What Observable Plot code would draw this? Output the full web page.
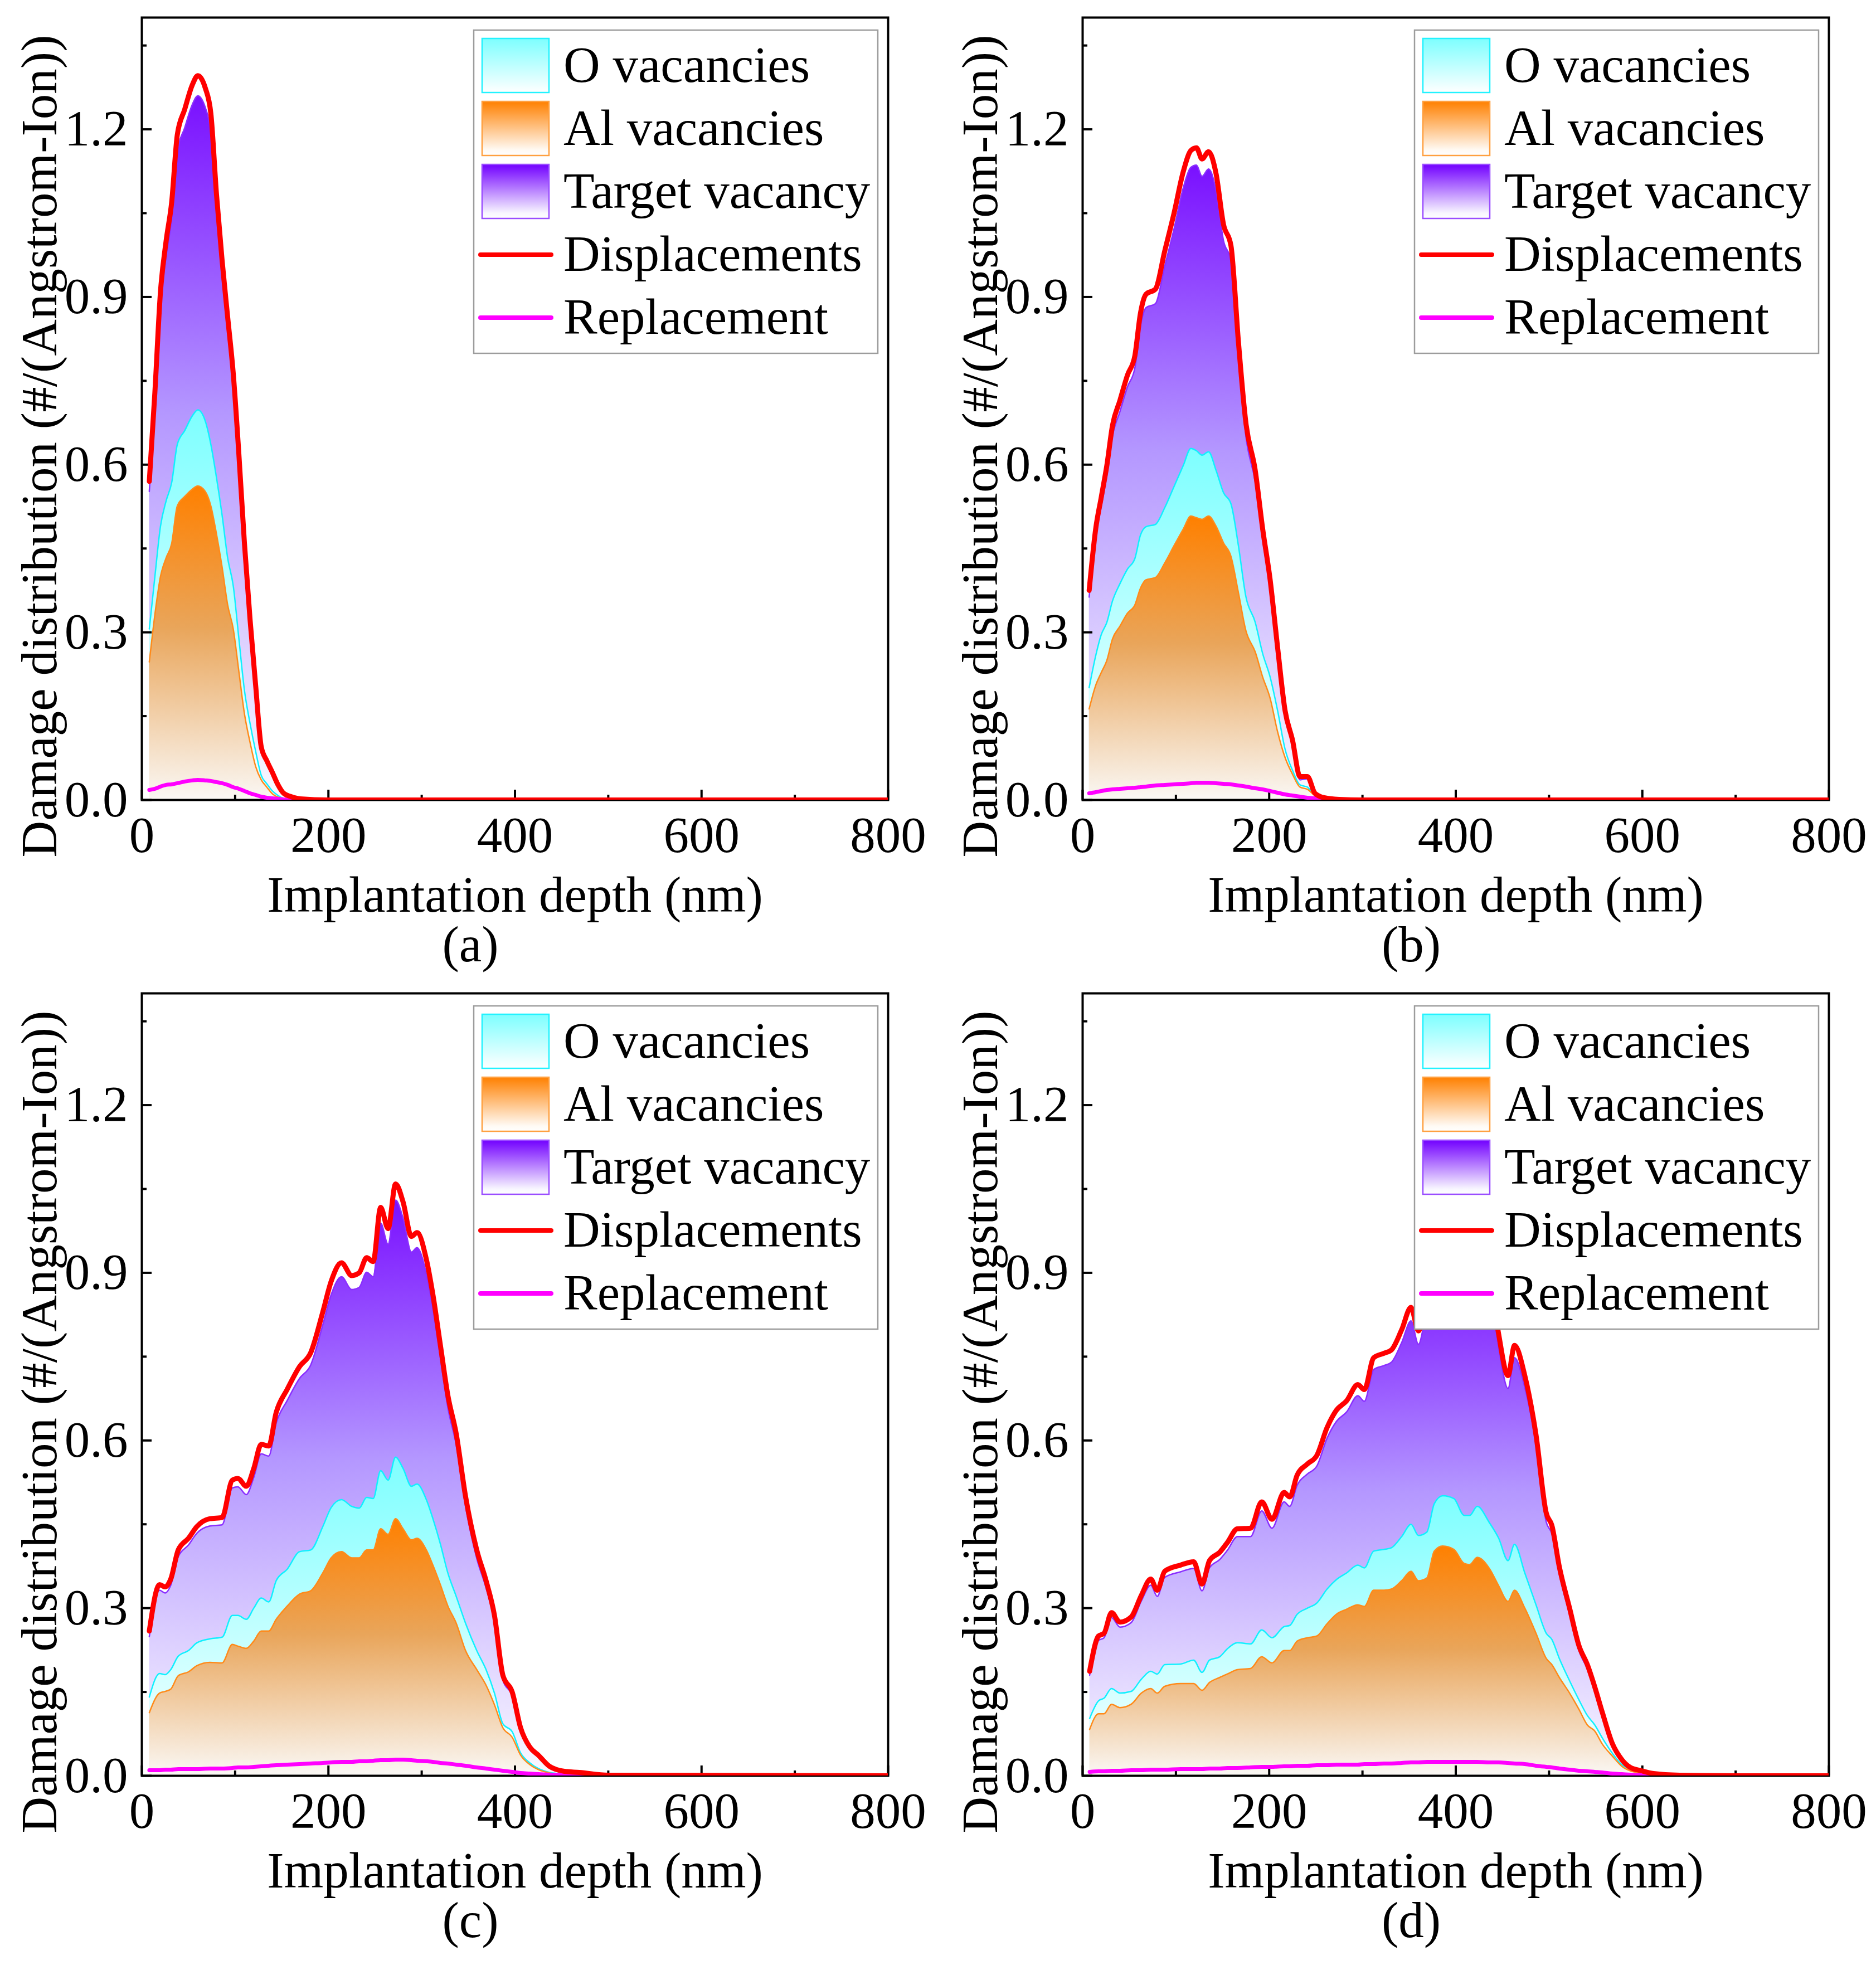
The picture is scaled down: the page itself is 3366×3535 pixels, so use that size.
<!DOCTYPE html>
<html>
<head>
<meta charset="utf-8">
<script src="https://cdn.jsdelivr.net/npm/d3@7"></script>
<script src="https://cdn.jsdelivr.net/npm/@observablehq/plot@0.6"></script>
<style>
html,body{margin:0;padding:0;background:#fff;}
#root{position:relative;width:3366px;height:3535px;background:#fff;}
.panel{position:absolute;width:1688px;height:1751px;}
</style>
</head>
<body>
<svg width="0" height="0" style="position:absolute">
<defs>
<linearGradient id="gPurple" x1="0" y1="0" x2="0" y2="1">
<stop offset="0" stop-color="#7A10FF"/><stop offset="0.45" stop-color="#B497FF"/><stop offset="1" stop-color="#FAF9FF"/>
</linearGradient>
<linearGradient id="gCyan" x1="0" y1="0" x2="0" y2="1">
<stop offset="0" stop-color="#7DFFFF"/><stop offset="1" stop-color="#FCFFFF"/>
</linearGradient>
<linearGradient id="gOrange" x1="0" y1="0" x2="0" y2="1">
<stop offset="0" stop-color="#FF8000"/><stop offset="0.45" stop-color="#E9A55A"/><stop offset="1" stop-color="#FAF8F5"/>
</linearGradient>
<linearGradient id="lgCyan" x1="0" y1="0" x2="0" y2="1">
<stop offset="0" stop-color="#7DFFFF"/><stop offset="1" stop-color="#FFFFFF"/>
</linearGradient>
<linearGradient id="lgOrange" x1="0" y1="0" x2="0" y2="1">
<stop offset="0" stop-color="#FF8000"/><stop offset="0.9" stop-color="#FFFAF4"/><stop offset="1" stop-color="#FFFFFF"/>
</linearGradient>
<linearGradient id="lgPurple" x1="0" y1="0" x2="0" y2="1">
<stop offset="0" stop-color="#7200FF"/><stop offset="0.9" stop-color="#F8F6FF"/><stop offset="1" stop-color="#FFFFFF"/>
</linearGradient>
</defs>
</svg>
<div id="root"></div>
<script>
// ---------- axis ticks & labels ----------
const xMajor = [0, 200, 400, 600, 800];
const xMinor = [100, 300, 500, 700];
const yMajor = [0, 0.3, 0.6, 0.9, 1.2];
const yMinor = [0.15, 0.45, 0.75, 1.05, 1.35];
const xTitle = "Implantation depth (nm)";
const yTitle = "Damage distribution (#/(Angstrom-Ion))";
const panelLabels = ["(a)", "(b)", "(c)", "(d)"];
const legendLabels = ["O vacancies", "Al vacancies", "Target vacancy", "Displacements", "Replacement"];

// ---------- panel (a) ----------
const depthA = [8,14,20,26,32,38,46,54,60,68,74,80,86,92,98,104,110,116,122,128,134,140,146,152,160,170,200,800];
const dispA = [0.57,0.73,0.91,1.00,1.07,1.19,1.236,1.279,1.296,1.274,1.228,1.084,0.966,0.864,0.763,0.619,0.459,0.323,0.205,0.095,0.07,0.049,0.027,0.012,0.006,0.002,0,0];
const replA = [0.018,0.02,0.024,0.027,0.028,0.03,0.033,0.035,0.036,0.035,0.034,0.032,0.03,0.027,0.023,0.02,0.016,0.012,0.009,0.006,0.004,0.003,0.002,0.001,0.0005,0,0,0];
const targetA = [0.552,0.71,0.886,0.973,1.042,1.16,1.203,1.244,1.26,1.239,1.194,1.052,0.936,0.837,0.74,0.599,0.443,0.311,0.196,0.089,0.066,0.046,0.025,0.011,0.0055,0.002,0,0];
const oA = [0.306,0.40,0.49,0.535,0.568,0.636,0.661,0.687,0.698,0.678,0.636,0.577,0.51,0.433,0.383,0.289,0.196,0.137,0.087,0.044,0.029,0.016,0.008,0.003,0.001,0,0,0];
const alA = [0.247,0.332,0.40,0.433,0.459,0.526,0.543,0.556,0.562,0.552,0.526,0.476,0.417,0.349,0.306,0.23,0.154,0.103,0.06,0.036,0.023,0.011,0.005,0.003,0.001,0,0,0];

// ---------- panel (b) ----------
const depthB = [7,14,20,26,32,40,48,56,62,68,78,88,98,108,116,122,128,135,143,151,159,167,175,185,193,201,209,217,225,233,241,249,259,275,300,800];
const dispB = [0.375,0.485,0.542,0.599,0.67,0.715,0.76,0.795,0.871,0.905,0.914,0.982,1.05,1.125,1.162,1.167,1.147,1.16,1.121,1.03,0.992,0.82,0.675,0.59,0.485,0.394,0.273,0.16,0.107,0.042,0.042,0.012,0.004,0.001,0,0];
const replB = [0.012,0.014,0.016,0.018,0.019,0.02,0.021,0.022,0.023,0.024,0.026,0.027,0.028,0.029,0.03,0.031,0.031,0.031,0.03,0.029,0.028,0.026,0.024,0.021,0.019,0.016,0.013,0.01,0.008,0.006,0.004,0.003,0.002,0.001,0,0];
const targetB = [0.363,0.471,0.526,0.581,0.651,0.695,0.739,0.773,0.848,0.881,0.888,0.955,1.022,1.096,1.132,1.136,1.116,1.129,1.091,1.001,0.964,0.794,0.651,0.569,0.466,0.378,0.26,0.15,0.099,0.036,0.038,0.009,0.002,0,0,0];
const oB = [0.201,0.258,0.296,0.318,0.356,0.387,0.413,0.432,0.474,0.489,0.493,0.523,0.561,0.599,0.629,0.625,0.617,0.623,0.59,0.55,0.53,0.455,0.364,0.318,0.262,0.22,0.16,0.091,0.053,0.027,0.023,0.008,0.003,0.001,0,0];
const alB = [0.163,0.205,0.228,0.25,0.288,0.311,0.334,0.349,0.379,0.394,0.398,0.424,0.455,0.485,0.508,0.505,0.502,0.508,0.49,0.46,0.436,0.371,0.303,0.265,0.22,0.182,0.122,0.076,0.046,0.023,0.019,0.008,0.003,0.001,0,0];

// ---------- panel (c) ----------
const depthC = [8,19,25,31,39,50,59,73,86,97,103,112,120,128,136,144,156,169,181,194,203,214,225,233,241,248,256,264,272,280,289,295,305,312,320,328,337,347,359,369,378,387,397,406,416,425,437,453,469,500,800];
const dispC = [0.259,0.342,0.338,0.352,0.404,0.425,0.446,0.46,0.462,0.529,0.532,0.518,0.55,0.593,0.59,0.65,0.692,0.732,0.757,0.83,0.885,0.918,0.895,0.9,0.927,0.92,1.017,0.979,1.059,1.027,0.965,0.972,0.924,0.861,0.771,0.681,0.612,0.5,0.404,0.349,0.287,0.18,0.15,0.086,0.051,0.037,0.017,0.008,0.006,0.001,0];
const replC = [0.01,0.01,0.011,0.011,0.012,0.012,0.012,0.013,0.013,0.014,0.015,0.015,0.016,0.017,0.018,0.019,0.02,0.021,0.022,0.023,0.024,0.025,0.025,0.026,0.026,0.027,0.028,0.028,0.029,0.029,0.028,0.027,0.026,0.025,0.023,0.022,0.02,0.018,0.015,0.013,0.011,0.009,0.007,0.005,0.004,0.003,0.002,0.001,0.0005,0,0];
const targetC = [0.249,0.332,0.327,0.341,0.392,0.413,0.434,0.447,0.449,0.515,0.517,0.503,0.534,0.576,0.572,0.631,0.672,0.711,0.735,0.807,0.861,0.893,0.87,0.874,0.901,0.893,0.989,0.951,1.03,0.998,0.937,0.945,0.898,0.836,0.748,0.659,0.592,0.482,0.389,0.336,0.276,0.171,0.143,0.081,0.047,0.034,0.015,0.007,0.0055,0.001,0];
const oC = [0.141,0.183,0.181,0.19,0.214,0.224,0.238,0.245,0.248,0.287,0.287,0.28,0.30,0.318,0.311,0.349,0.37,0.401,0.404,0.446,0.48,0.494,0.482,0.479,0.498,0.496,0.546,0.529,0.57,0.55,0.518,0.522,0.494,0.46,0.415,0.363,0.321,0.273,0.224,0.19,0.148,0.093,0.079,0.041,0.023,0.013,0.006,0.003,0.001,0,0];
const alC = [0.113,0.148,0.151,0.155,0.179,0.186,0.197,0.203,0.202,0.235,0.232,0.228,0.241,0.259,0.259,0.28,0.304,0.325,0.331,0.363,0.39,0.401,0.39,0.39,0.404,0.404,0.442,0.432,0.46,0.442,0.422,0.425,0.404,0.377,0.342,0.304,0.273,0.224,0.19,0.162,0.127,0.086,0.069,0.037,0.02,0.011,0.005,0.002,0.001,0,0];

// ---------- panel (d) ----------
const depthD = [7.5,17,23,31,40,52,63,73,80,88,105,119,128,136,147,155,166,180,192,203,216,222,230,241,251,262,272,283,295,302,312,323,331,342,352,360,369,377,386,398,409,415,423,436,446,456,463,474,486,497,503,511,522,532,541,549,557,568,578,587,599,612,640,700,800];
const dispD = [0.187,0.25,0.255,0.292,0.275,0.284,0.323,0.352,0.332,0.366,0.377,0.383,0.343,0.385,0.40,0.417,0.442,0.443,0.49,0.459,0.507,0.499,0.538,0.558,0.573,0.623,0.654,0.671,0.70,0.691,0.748,0.756,0.762,0.798,0.838,0.796,0.86,0.90,0.93,0.95,0.93,0.93,0.94,0.90,0.79,0.716,0.77,0.716,0.61,0.47,0.448,0.374,0.30,0.233,0.199,0.159,0.114,0.057,0.029,0.015,0.009,0.004,0.001,0,0];
const replD = [0.007,0.008,0.008,0.009,0.009,0.01,0.01,0.011,0.011,0.011,0.012,0.012,0.012,0.013,0.013,0.014,0.014,0.015,0.016,0.016,0.017,0.017,0.018,0.018,0.019,0.019,0.02,0.02,0.02,0.021,0.021,0.022,0.022,0.023,0.024,0.024,0.025,0.025,0.025,0.025,0.025,0.025,0.025,0.024,0.024,0.023,0.022,0.021,0.018,0.016,0.015,0.013,0.011,0.009,0.008,0.007,0.006,0.004,0.003,0.002,0.001,0.0005,0,0,0];
const targetD = [0.18,0.242,0.247,0.283,0.266,0.274,0.313,0.341,0.321,0.355,0.365,0.371,0.331,0.372,0.387,0.403,0.428,0.428,0.474,0.443,0.49,0.482,0.52,0.54,0.554,0.604,0.634,0.651,0.68,0.67,0.727,0.734,0.74,0.775,0.814,0.772,0.835,0.875,0.905,0.925,0.905,0.905,0.915,0.876,0.766,0.693,0.748,0.695,0.592,0.454,0.433,0.361,0.289,0.224,0.191,0.152,0.108,0.053,0.026,0.013,0.008,0.0035,0.001,0,0];
const oD = [0.1025,0.134,0.139,0.156,0.148,0.151,0.173,0.187,0.182,0.199,0.20,0.207,0.185,0.207,0.213,0.227,0.238,0.236,0.261,0.247,0.267,0.269,0.289,0.30,0.309,0.334,0.351,0.363,0.377,0.372,0.402,0.405,0.408,0.428,0.45,0.43,0.436,0.487,0.501,0.496,0.466,0.466,0.482,0.453,0.425,0.385,0.414,0.363,0.306,0.255,0.244,0.21,0.17,0.136,0.108,0.091,0.068,0.04,0.02,0.012,0.006,0.003,0.001,0,0];
const alD = [0.083,0.111,0.111,0.128,0.122,0.128,0.148,0.156,0.148,0.16,0.165,0.165,0.153,0.167,0.176,0.182,0.19,0.192,0.213,0.202,0.224,0.224,0.241,0.247,0.25,0.272,0.289,0.298,0.306,0.303,0.332,0.332,0.334,0.349,0.366,0.349,0.354,0.402,0.411,0.405,0.38,0.378,0.391,0.371,0.34,0.312,0.332,0.30,0.255,0.21,0.199,0.176,0.148,0.119,0.091,0.08,0.057,0.035,0.017,0.009,0.005,0.002,0.001,0,0];

function rows(depth, disp, target, o, al, repl) {
  return depth.map((d, i) => ({depth: d, disp: disp[i], target: target[i], o: o[i], al: al[i], repl: repl[i]}));
}

const panels = [
  {data: rows(depthA, dispA, targetA, oA, alA, replA), left: 0, top: 0},
  {data: rows(depthB, dispB, targetB, oB, alB, replB), left: 1688, top: 0},
  {data: rows(depthC, dispC, targetC, oC, alC, replC), left: 0, top: 1751},
  {data: rows(depthD, dispD, targetD, oD, alD, replD), left: 1688, top: 1751}
];

const FONT = '"Liberation Serif", "Times New Roman", serif';
const FS = 91;
const curve = "monotone-x";

function makePlot(data, label) {
  return Plot.plot({
    width: 1688, height: 1751,
    marginLeft: 254, marginRight: 95, marginTop: 31, marginBottom: 316,
    x: {domain: [0, 800], axis: null},
    y: {domain: [0, 1.4], axis: null},
    style: {fontFamily: FONT, fontSize: FS + "px", color: "black", background: "transparent", overflow: "visible"},
    marks: [
      Plot.areaY(data, {x: "depth", y: "target", fill: "url(#gPurple)", curve, clip: true}),
      Plot.areaY(data, {x: "depth", y: "o", fill: "url(#gCyan)", curve, clip: true}),
      Plot.areaY(data, {x: "depth", y: "al", fill: "url(#gOrange)", curve, clip: true}),
      Plot.frame({stroke: "black", strokeWidth: 4}),
      Plot.axisX(xMajor, {tickSize: 18, dy: -18, strokeWidth: 4, fill: "none", label: null}),
      Plot.axisX(xMinor, {tickSize: 9, dy: -9, strokeWidth: 4, fill: "none", label: null}),
      Plot.axisY(yMajor, {tickSize: 18, dx: 18, strokeWidth: 4, fill: "none", label: null}),
      Plot.axisY(yMinor, {tickSize: 9, dx: 9, strokeWidth: 4, fill: "none", label: null}),
      Plot.axisX(xMajor, {tickSize: 0, tickPadding: 29, label: null, fontSize: FS}),
      Plot.axisY(yMajor, {tickSize: 0, tickPadding: 25, tickFormat: d3.format(".1f"), label: null, fontSize: FS}),
      Plot.lineY(data, {x: "depth", y: "target", stroke: "#8A2EFF", strokeWidth: 2.5, curve, clip: true}),
      Plot.lineY(data, {x: "depth", y: "o", stroke: "#10F0FF", strokeWidth: 2.5, curve, clip: true}),
      Plot.lineY(data, {x: "depth", y: "al", stroke: "#FF8A1A", strokeWidth: 2.5, curve, clip: true}),
      Plot.lineY(data, {x: "depth", y: "repl", stroke: "#FF00FF", strokeWidth: 7, curve, clip: true, strokeLinejoin: "round"}),
      Plot.lineY(data, {x: "depth", y: "disp", stroke: "#FF0000", strokeWidth: 9, curve, clip: true, strokeLinejoin: "round"}),
      Plot.text([xTitle], {text: d => d, frameAnchor: "bottom", textAnchor: "middle", lineAnchor: "middle", dy: 171, fontSize: FS}),
      Plot.text([yTitle], {text: d => d, frameAnchor: "left", textAnchor: "middle", lineAnchor: "middle", rotate: -90, dx: -183, dy: 67, fontSize: FS}),
      Plot.text([label], {text: d => d, frameAnchor: "bottom", textAnchor: "middle", lineAnchor: "middle", dx: -80, dy: 260, fontSize: FS})
    ]
  });
}

const legendFills = ["url(#lgCyan)", "url(#lgOrange)", "url(#lgPurple)", null, null];
const legendStrokes = ["#22F2FF", "#FFA040", "#9A4DFF", "#FF0000", "#FF00FF"];

function addLegend(div) {
  const svg = d3.select(div).append("svg")
    .attr("width", 1688).attr("height", 1751)
    .style("position", "absolute").style("left", "0px").style("top", "0px")
    .style("pointer-events", "none");
  const g = svg.append("g").attr("transform", "translate(850,54)");
  g.append("rect").attr("x", 0).attr("y", 0).attr("width", 725).attr("height", 580)
    .attr("fill", "white").attr("stroke", "#9c9c9c").attr("stroke-width", 2.5);
  legendLabels.forEach((name, i) => {
    const top = 15 + 113 * i;
    if (legendFills[i]) {
      g.append("rect").attr("x", 15).attr("y", top).attr("width", 120).attr("height", 97)
        .attr("fill", legendFills[i]).attr("stroke", legendStrokes[i]).attr("stroke-width", 2.5);
    } else {
      g.append("line").attr("x1", 12).attr("x2", 139).attr("y1", top + 49).attr("y2", top + 49)
        .attr("stroke", legendStrokes[i]).attr("stroke-width", 8).attr("stroke-linecap", "round");
    }
    g.append("text").attr("x", 161).attr("y", top + 78)
      .attr("font-family", FONT).attr("font-size", FS).attr("fill", "black").text(name);
  });
}

const root = document.getElementById("root");
panels.forEach((p, i) => {
  const div = document.createElement("div");
  div.className = "panel";
  div.style.left = p.left + "px";
  div.style.top = p.top + "px";
  root.appendChild(div);
  const svg = makePlot(p.data, panelLabels[i]);
  svg.style.position = "absolute";
  svg.style.left = "0px";
  svg.style.top = "0px";
  div.appendChild(svg);
  addLegend(div);
});
</script>
</body>
</html>
